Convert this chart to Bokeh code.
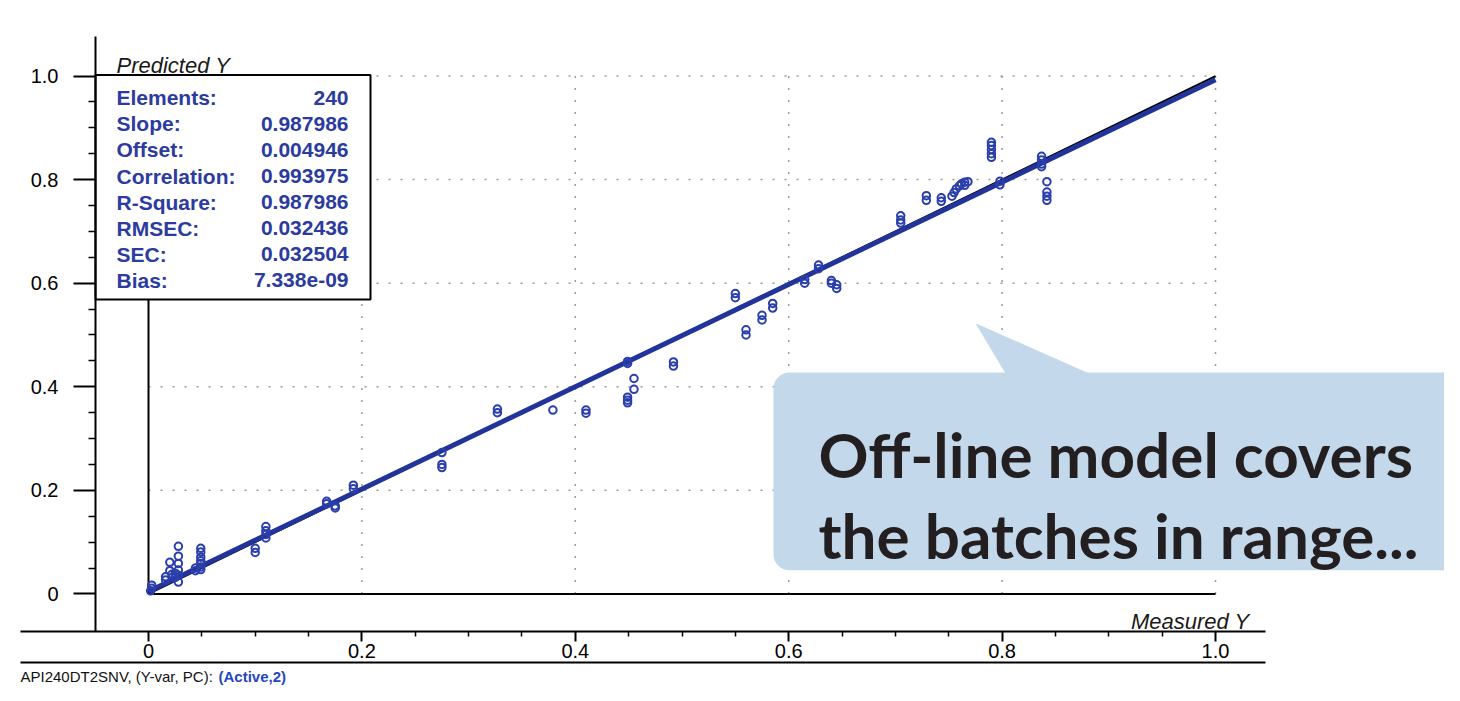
from bokeh.plotting import figure
from bokeh.models import Range1d, FixedTicker, LinearAxis, BasicTickFormatter
from bokeh.core.properties import value
from bokeh.embed import file_html
from bokeh.resources import INLINE
import math

# ---------------- data ----------------
measured = [0.003, 0.003, 0.002, 0.016, 0.016, 0.020, 0.020, 0.022, 0.025, 0.025,
            0.028, 0.028, 0.028, 0.028, 0.028, 0.028, 0.044, 0.044,
            0.049, 0.049, 0.049, 0.049, 0.049, 0.049, 0.049,
            0.100, 0.100, 0.110, 0.110, 0.110, 0.110,
            0.167, 0.167, 0.175, 0.175, 0.192, 0.192,
            0.275, 0.275, 0.275, 0.327, 0.327, 0.379, 0.410, 0.410,
            0.449, 0.449, 0.449, 0.449, 0.449, 0.455, 0.455, 0.492, 0.492,
            0.550, 0.550, 0.560, 0.560, 0.575, 0.575, 0.585, 0.585,
            0.615, 0.615, 0.628, 0.628, 0.640, 0.640, 0.645, 0.645,
            0.705, 0.705, 0.705, 0.729, 0.729, 0.743, 0.743,
            0.753, 0.755, 0.757, 0.760, 0.762, 0.765, 0.765, 0.768,
            0.790, 0.790, 0.790, 0.790, 0.790, 0.798, 0.798,
            0.837, 0.837, 0.837, 0.837, 0.842, 0.842, 0.842, 0.842]
predicted = [0.017, 0.011, 0.006, 0.033, 0.027, 0.061, 0.045, 0.038, 0.040, 0.032,
             0.092, 0.073, 0.059, 0.046, 0.036, 0.023, 0.050, 0.045,
             0.088, 0.081, 0.071, 0.064, 0.059, 0.052, 0.047,
             0.088, 0.080, 0.130, 0.122, 0.115, 0.108,
             0.179, 0.174, 0.170, 0.166, 0.210, 0.203,
             0.273, 0.250, 0.244, 0.357, 0.350, 0.355, 0.355, 0.349,
             0.449, 0.445, 0.380, 0.374, 0.369, 0.416, 0.395, 0.448, 0.440,
             0.580, 0.572, 0.510, 0.500, 0.538, 0.529, 0.561, 0.552,
             0.607, 0.600, 0.635, 0.628, 0.605, 0.600, 0.597, 0.590,
             0.730, 0.722, 0.716, 0.769, 0.760, 0.765, 0.758,
             0.768, 0.775, 0.782, 0.788, 0.792, 0.795, 0.789, 0.796,
             0.872, 0.866, 0.858, 0.850, 0.843, 0.797, 0.790,
             0.845, 0.838, 0.830, 0.825, 0.796, 0.776, 0.768, 0.760]

fit_slope = 0.987986
fit_offset = 0.004946
line_x = [0.0, 1.0]

stat_names = ["Elements:", "Slope:", "Offset:", "Correlation:", "R-Square:", "RMSEC:", "SEC:", "Bias:"]
stat_values = ["240", "0.987986", "0.004946", "0.993975", "0.987986", "0.032436", "0.032504", "7.338e-09"]

major_ticks = [0, 0.2, 0.4, 0.6, 0.8, 1.0]
grid_ticks = [0.2, 0.4, 0.6, 0.8, 1.0]
minor_ticks = [0.05, 0.1, 0.15, 0.25, 0.3, 0.35, 0.45, 0.5, 0.55, 0.65, 0.7, 0.75, 0.85, 0.9, 0.95]
tick_overrides = {0: "0", 1: "1.0"}

x_title = "Measured Y"
y_title = "Predicted Y"
callout_lines = ["Off-line model covers", "the batches in range..."]
footer_parts = ["API240DT2SNV, (Y-var, PC): ", "(Active,2)"]

# ---------------- layout helpers (reference pixel -> data) ----------------
W, H = 1444, 685
X0, XS = 148.0, 1067.0   # ref px of x=0, px per unit
Y0, YS = 604.0, 524.0    # ref px of y=0, px per unit
K = 595.0 / 602.0        # slight vertical squeeze so the footer fits

def dx(px):
    return (px - X0) / XS

def dy(py):
    return (Y0 - py) / YS

def ref_y(canvas_y):
    return 40 + (canvas_y - 36) / K

p = figure(width=W, height=H,
           x_range=Range1d(dx(0), dx(W)),
           y_range=Range1d(dy(ref_y(H)), dy(ref_y(0))),
           x_axis_type=None, y_axis_type=None,
           output_backend="svg", toolbar_location=None,
           min_border_left=0, min_border_right=0, min_border_top=0, min_border_bottom=0)
p.outline_line_color = None
p.background_fill_color = "white"
p.border_fill_color = "white"

fmt = BasicTickFormatter(precision=1)

xa = LinearAxis(ticker=FixedTicker(ticks=major_ticks, minor_ticks=minor_ticks),
                formatter=fmt, fixed_location=dy(642), bounds=(dx(20), dx(1265)),
                major_label_overrides=tick_overrides)
ya = LinearAxis(ticker=FixedTicker(ticks=major_ticks, minor_ticks=minor_ticks),
                formatter=fmt, fixed_location=dx(95), bounds=(dy(642), dy(40)),
                major_label_overrides=tick_overrides)
for ax in (xa, ya):
    ax.axis_line_width = 2
    ax.axis_line_color = "black"
    ax.major_tick_line_width = 2
    ax.minor_tick_line_width = 1.5
    ax.major_tick_in = 0
    ax.minor_tick_in = 0
    ax.major_label_text_font = "Liberation Sans"
    ax.major_label_text_font_size = "20px"
    ax.major_label_text_color = "black"
xa.major_tick_out = 10
xa.minor_tick_out = 5
xa.major_label_standoff = 2
ya.major_tick_out = 22
ya.minor_tick_out = 7
ya.major_label_standoff = 15
p.add_layout(xa, "below")
p.add_layout(ya, "left")

# lower frame line
p.segment(x0=[dx(20)], x1=[dx(1265)], y0=[dy(ref_y(662))], y1=[dy(ref_y(662))],
          line_color="black", line_width=2)

# ---------------- dotted grid ----------------
p.segment(x0=grid_ticks, x1=grid_ticks, y0=[0] * len(grid_ticks), y1=[1.0] * len(grid_ticks),
          line_color="#9a9a9a", line_width=1.5, line_dash="2 10")
p.segment(x0=[0] * len(grid_ticks), x1=[1.0] * len(grid_ticks), y0=grid_ticks, y1=grid_ticks,
          line_color="#9a9a9a", line_width=1.5, line_dash="2 10")

# zero lines
p.segment(x0=[0, 0], x1=[1.0, 0], y0=[0, 0], y1=[0, 1.0], line_color="black", line_width=2)

# target and fit lines
p.line(line_x, line_x, line_color="black", line_width=2)
p.line(line_x, [fit_slope * v + fit_offset for v in line_x], line_color="#22339a", line_width=5)

# points
p.scatter(measured, predicted, marker="circle", size=7.5, fill_alpha=0,
          line_color="#2a3fab", line_width=2)

# ---------------- stats box ----------------
p.quad(left=[dx(95)], right=[dx(370)], top=[dy(79)], bottom=[dy(306)],
       fill_color="white", line_color="black", line_width=2)
row_y = [dy(102 + 26.4 * i) for i in range(len(stat_names))]
p.text(x=[dx(116)] * len(stat_names), y=row_y, text=stat_names,
       text_font=value("Liberation Sans"), text_font_style="bold", text_font_size="21px",
       text_color="#2b3b9e", text_baseline="alphabetic", text_align="left")
p.text(x=[dx(348)] * len(stat_values), y=row_y, text=stat_values,
       text_font=value("Liberation Sans"), text_font_style="bold", text_font_size="21px",
       text_color="#2b3b9e", text_baseline="alphabetic", text_align="right")

# axis titles
p.text(x=[dx(116)], y=[dy(69)], text=[y_title], text_font=value("Liberation Sans"),
       text_font_style="italic", text_font_size="22px", text_color="#1a1a1a",
       text_baseline="alphabetic", text_align="left")
p.text(x=[dx(1249)], y=[dy(632)], text=[x_title], text_font=value("Liberation Sans"),
       text_font_style="italic", text_font_size="22px", text_color="#1a1a1a",
       text_baseline="alphabetic", text_align="right")

# ---------------- callout ----------------
def rounded_rect(l, t, r, b, rad, n=8):
    xs, ys = [], []
    corners = [(r - rad, t + rad, -90, 0), (r - rad, b - rad, 0, 90),
               (l + rad, b - rad, 90, 180), (l + rad, t + rad, 180, 270)]
    for cx, cy, a0, a1 in corners:
        for k in range(n + 1):
            a = math.radians(a0 + (a1 - a0) * k / n)
            xs.append(dx(cx + rad * math.cos(a)))
            ys.append(dy(cy + rad * math.sin(a)))
    return xs, ys

bx, by = rounded_rect(773, 380, 1460, 580, 16)
p.patch(bx, by, fill_color="#c3d8eb", line_color=None)
p.patch([dx(975), dx(1008), dx(1100)], [dy(330), dy(386), dy(386)],
        fill_color="#c3d8eb", line_color=None)
p.text(x=[dx(818)] * 2, y=[dy(462), dy(544)], text=callout_lines,
       text_font=value("Lato"), text_font_style="bold", text_font_size="62px",
       text_color="#231f20", text_baseline="alphabetic", text_align="left")

# ---------------- footer ----------------
footer_y = dy(ref_y(676))
p.text(x=[dx(20)], y=[footer_y], text=[footer_parts[0]], text_font=value("Liberation Sans"),
       text_font_size="15px", text_color="#111111", text_baseline="alphabetic", text_align="left")
p.text(x=[dx(20 + 198)], y=[footer_y], text=[footer_parts[1]], text_font=value("Liberation Sans"),
       text_font_size="15px", text_font_style="bold", text_color="#2447c0",
       text_baseline="alphabetic", text_align="left")

open("out.html", "w").write(file_html(p, INLINE))
